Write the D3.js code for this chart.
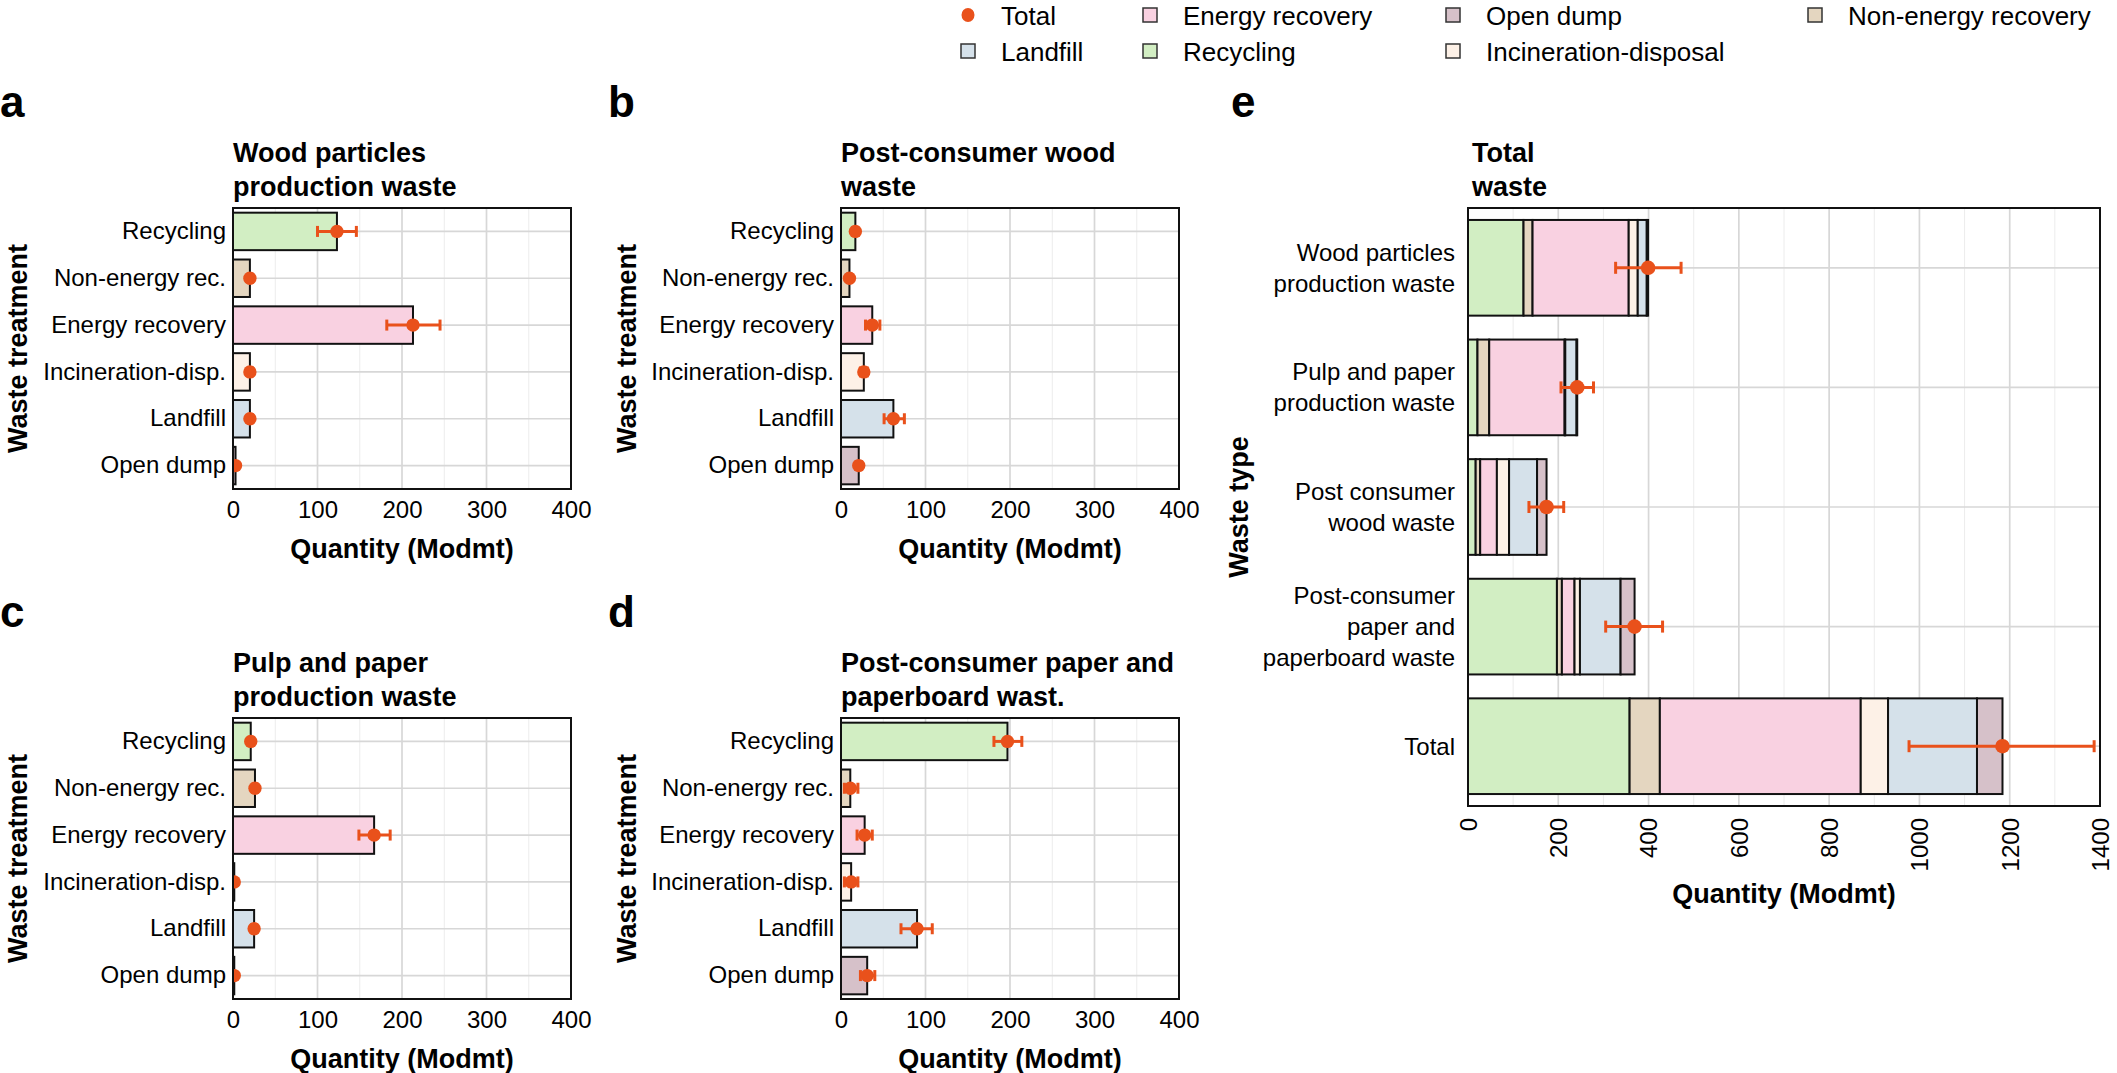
<!DOCTYPE html>
<html><head><meta charset="utf-8">
<script src="https://cdn.jsdelivr.net/npm/d3@7"></script>
<style>
body{margin:0;background:#fff;}
svg{display:block;font-family:"Liberation Sans",Arial,Helvetica,sans-serif;}
</style></head><body><svg id="chart" width="2117" height="1073"></svg>
<script>
// ---------------- DATA ----------------
const treatments = ["Recycling","Non-energy rec.","Energy recovery","Incineration-disp.","Landfill","Open dump"];
const treatmentKeys = ["Recycling","Non-energy recovery","Energy recovery","Incineration-disposal","Landfill","Open dump"];

const woodParticlesValues = [123, 20, 213, 20, 20, 3];
const woodParticlesLow    = [100, 18, 182, 18, 18, 2];
const woodParticlesHigh   = [146, 23, 245, 23, 23, 4];

const postWoodValues = [17, 10, 37, 27, 62, 21];
const postWoodLow    = [14, 8, 29, 23, 51, 18];
const postWoodHigh   = [20, 12, 46, 31, 75, 24];

const pulpPaperValues = [21, 26, 167, 1.5, 25, 1.5];
const pulpPaperLow    = [19, 23, 149, 1, 22, 1];
const pulpPaperHigh   = [24, 29, 186, 2, 28, 2];

const postPaperValues = [197, 11, 28, 12, 90, 31];
const postPaperLow    = [181, 4, 19, 4, 71, 23];
const postPaperHigh   = [214, 20, 37, 20, 108, 40];

const wasteTypes = ["Wood particles\nproduction waste","Pulp and paper\nproduction waste","Post consumer\nwood waste","Post-consumer\npaper and\npaperboard waste","Total"];
const totalLow  = [327, 206, 135, 305, 977];
const totalHigh = [472, 278, 212, 431, 1387];

const smallTicks = [0,100,200,300,400];
const smallMinor = [50,150,250,350];
const totalTicks = [0,200,400,600,800,1000,1200,1400];
const totalMinor = [100,300,500,700,900,1100,1300];

const legendRow1 = ["Total","Energy recovery","Open dump","Non-energy recovery"];
const legendRow2 = ["Landfill","Recycling","Incineration-disposal"];

// ---------------- STYLE ----------------
const fillColors = {
  "Recycling":"#d2eec3",
  "Non-energy recovery":"#e4d6c0",
  "Energy recovery":"#f9d1e1",
  "Incineration-disposal":"#fdf1e7",
  "Landfill":"#d5e1ea",
  "Open dump":"#d6c1c9"
};
const orange = "#e9511b";
const majorGrid = "#d7d7d7", minorGrid = "#ececec";
const FONT = '"Liberation Sans",Arial,Helvetica,sans-serif';

const svg = d3.select("#chart");
const defs = svg.append("defs");
let clipId = 0;

function styleAxis(sel, size){
  sel.attr("font-family", FONT).attr("font-size", size);
  sel.select(".domain").remove();
  sel.selectAll("text").attr("fill","#000");
}

function smallPanel(letter, letterX, x0, y0, titleLines, ytitleX, values, low, high){
  const w = 338, h = 281;
  const x = d3.scaleLinear().domain([0,400]).range([x0, x0+w]);
  const y = d3.scaleBand().domain(treatments).range([y0, y0+h]).padding(0);
  const bw = y.bandwidth()*0.8;
  const g = svg.append("g");
  const cid = "clip"+(clipId++);
  defs.append("clipPath").attr("id",cid).append("rect").attr("x",x0).attr("y",y0).attr("width",w).attr("height",h);

  g.append("text").attr("x",letterX).attr("y",y0-91).attr("font-weight","bold").attr("font-size",44).text(letter);
  titleLines.forEach((t,i)=>g.append("text").attr("x",x0).attr("y",y0-46+i*33.5)
    .attr("font-weight","bold").attr("font-size",27).text(t));

  const grid = g.append("g");
  grid.selectAll(".mn").data(smallMinor).join("line").attr("x1",d=>x(d)).attr("x2",d=>x(d))
    .attr("y1",y0).attr("y2",y0+h).attr("stroke",minorGrid).attr("stroke-width",1);
  grid.selectAll(".mj").data(smallTicks).join("line").attr("x1",d=>x(d)).attr("x2",d=>x(d))
    .attr("y1",y0).attr("y2",y0+h).attr("stroke",majorGrid).attr("stroke-width",1.7);
  grid.selectAll(".hz").data(treatments).join("line").attr("x1",x0).attr("x2",x0+w)
    .attr("y1",d=>y(d)+y.bandwidth()/2).attr("y2",d=>y(d)+y.bandwidth()/2)
    .attr("stroke",majorGrid).attr("stroke-width",1.7);

  const data = treatments.map((t,i)=>({t, key:treatmentKeys[i], v:values[i], lo:low[i], hi:high[i]}));
  const layer = g.append("g").attr("clip-path",`url(#${cid})`);
  layer.selectAll("rect").data(data).join("rect")
    .attr("x",x(0)).attr("y",d=>y(d.t)+(y.bandwidth()-bw)/2)
    .attr("width",d=>x(d.v)-x(0)).attr("height",bw)
    .attr("fill",d=>fillColors[d.key]).attr("stroke","#111").attr("stroke-width",2);
  const eb = layer.selectAll(".eb").data(data).join("g").attr("class","eb")
    .attr("stroke",orange).attr("stroke-width",3);
  eb.append("line").attr("x1",d=>x(d.lo)).attr("x2",d=>x(d.hi))
    .attr("y1",d=>y(d.t)+y.bandwidth()/2).attr("y2",d=>y(d.t)+y.bandwidth()/2);
  eb.append("line").attr("x1",d=>x(d.lo)).attr("x2",d=>x(d.lo))
    .attr("y1",d=>y(d.t)+y.bandwidth()/2-5.5).attr("y2",d=>y(d.t)+y.bandwidth()/2+5.5);
  eb.append("line").attr("x1",d=>x(d.hi)).attr("x2",d=>x(d.hi))
    .attr("y1",d=>y(d.t)+y.bandwidth()/2-5.5).attr("y2",d=>y(d.t)+y.bandwidth()/2+5.5);
  layer.selectAll("circle").data(data).join("circle")
    .attr("cx",d=>x(d.v)).attr("cy",d=>y(d.t)+y.bandwidth()/2).attr("r",6.7).attr("fill",orange);

  g.append("rect").attr("x",x0).attr("y",y0).attr("width",w).attr("height",h)
    .attr("fill","none").attr("stroke","#111").attr("stroke-width",2);

  g.append("g").attr("transform",`translate(0,${y0+h})`)
    .call(d3.axisBottom(x).tickValues(smallTicks).tickFormat(d3.format("d")).tickSize(0).tickPadding(12))
    .call(s=>styleAxis(s,24));
  g.append("g").attr("transform",`translate(${x0},0)`)
    .call(d3.axisLeft(y).tickSize(0).tickPadding(7))
    .call(s=>styleAxis(s,24));

  g.append("text").attr("x",x0+w/2).attr("y",y0+h+69).attr("text-anchor","middle")
    .attr("font-weight","bold").attr("font-size",27).text("Quantity (Modmt)");
  g.append("text").attr("transform",`translate(${ytitleX},${y0+h/2}) rotate(-90)`)
    .attr("text-anchor","middle").attr("font-weight","bold").attr("font-size",27).text("Waste treatment");
}

smallPanel("a", 0, 233, 208, ["Wood particles","production waste"], 27, woodParticlesValues, woodParticlesLow, woodParticlesHigh);
smallPanel("b", 608, 841, 208, ["Post-consumer wood","waste"], 636, postWoodValues, postWoodLow, postWoodHigh);
smallPanel("c", 0, 233, 718, ["Pulp and paper","production waste"], 27, pulpPaperValues, pulpPaperLow, pulpPaperHigh);
smallPanel("d", 608, 841, 718, ["Post-consumer paper and","paperboard wast."], 636, postPaperValues, postPaperLow, postPaperHigh);

// ---------------- PANEL E ----------------
(function(){
  const x0 = 1468, y0 = 208, w = 632, h = 598;
  const x = d3.scaleLinear().domain([0,1400]).range([x0, x0+w]);
  const y = d3.scaleBand().domain(wasteTypes).range([y0, y0+h]).padding(0);
  const bw = y.bandwidth()*0.8;
  const series = [woodParticlesValues, pulpPaperValues, postWoodValues, postPaperValues];
  const rows = wasteTypes.map((t,i)=>{
    const r = {type:t};
    treatmentKeys.forEach((k,j)=>{
      r[k] = i < series.length ? series[i][j] : d3.sum(series, s=>s[j]);
    });
    r.total = d3.sum(treatmentKeys, k=>r[k]);
    r.lo = totalLow[i]; r.hi = totalHigh[i];
    return r;
  });
  const stacked = d3.stack().keys(treatmentKeys)(rows);
  const g = svg.append("g");
  const cid = "clip"+(clipId++);
  defs.append("clipPath").attr("id",cid).append("rect").attr("x",x0).attr("y",y0).attr("width",w).attr("height",h);

  g.append("text").attr("x",1231).attr("y",y0-91).attr("font-weight","bold").attr("font-size",44).text("e");
  ["Total","waste"].forEach((t,i)=>g.append("text").attr("x",x0+4).attr("y",y0-46+i*33.5)
    .attr("font-weight","bold").attr("font-size",27).text(t));

  const grid = g.append("g");
  grid.selectAll(".mn").data(totalMinor).join("line").attr("x1",d=>x(d)).attr("x2",d=>x(d))
    .attr("y1",y0).attr("y2",y0+h).attr("stroke",minorGrid).attr("stroke-width",1);
  grid.selectAll(".mj").data(totalTicks).join("line").attr("x1",d=>x(d)).attr("x2",d=>x(d))
    .attr("y1",y0).attr("y2",y0+h).attr("stroke",majorGrid).attr("stroke-width",1.7);
  grid.selectAll(".hz").data(wasteTypes).join("line").attr("x1",x0).attr("x2",x0+w)
    .attr("y1",d=>y(d)+y.bandwidth()/2).attr("y2",d=>y(d)+y.bandwidth()/2)
    .attr("stroke",majorGrid).attr("stroke-width",1.7);

  const layer = g.append("g").attr("clip-path",`url(#${cid})`);
  stacked.forEach(s=>{
    layer.append("g").selectAll("rect").data(s).join("rect")
      .attr("x",d=>x(d[0])).attr("y",d=>y(d.data.type)+(y.bandwidth()-bw)/2)
      .attr("width",d=>x(d[1])-x(d[0])).attr("height",bw)
      .attr("fill",fillColors[s.key]).attr("stroke","#111").attr("stroke-width",2);
  });
  const eb = layer.selectAll(".eb").data(rows).join("g").attr("stroke",orange).attr("stroke-width",3);
  const cy = d=>y(d.type)+y.bandwidth()/2;
  eb.append("line").attr("x1",d=>x(d.lo)).attr("x2",d=>x(d.hi)).attr("y1",cy).attr("y2",cy);
  eb.append("line").attr("x1",d=>x(d.lo)).attr("x2",d=>x(d.lo)).attr("y1",d=>cy(d)-6).attr("y2",d=>cy(d)+6);
  eb.append("line").attr("x1",d=>x(d.hi)).attr("x2",d=>x(d.hi)).attr("y1",d=>cy(d)-6).attr("y2",d=>cy(d)+6);
  layer.selectAll("circle").data(rows).join("circle")
    .attr("cx",d=>x(d.total)).attr("cy",cy).attr("r",7.3).attr("fill",orange);

  g.append("rect").attr("x",x0).attr("y",y0).attr("width",w).attr("height",h)
    .attr("fill","none").attr("stroke","#111").attr("stroke-width",2);

  const xa = g.append("g").attr("transform",`translate(0,${y0+h})`)
    .call(d3.axisBottom(x).tickValues(totalTicks).tickFormat(d3.format("d")).tickSize(0))
    .call(s=>styleAxis(s,24));
  xa.selectAll("text").attr("transform","rotate(-90)").attr("x",-12).attr("y",0)
    .attr("dy","0.35em").attr("text-anchor","end");

  const ya = g.append("g").attr("transform",`translate(${x0},0)`)
    .call(d3.axisLeft(y).tickSize(0).tickPadding(13))
    .call(s=>styleAxis(s,24));
  ya.selectAll("text").each(function(d){
    const lines = d.split("\n");
    const t = d3.select(this).text(null).attr("dy",null);
    lines.forEach((ln,i)=>{
      t.append("tspan").attr("x",-13).attr("dy", i===0 ? (0.35*24 - (lines.length-1)*31/2) : 31).text(ln);
    });
  });

  g.append("text").attr("x",x0+w/2).attr("y",y0+h+97).attr("text-anchor","middle")
    .attr("font-weight","bold").attr("font-size",27).text("Quantity (Modmt)");
  g.append("text").attr("transform",`translate(1248,${y0+h/2}) rotate(-90)`)
    .attr("text-anchor","middle").attr("font-weight","bold").attr("font-size",27).text("Waste type");
})();

// ---------------- LEGEND ----------------
(function(){
  const colX = [968, 1150, 1453, 1815];
  const rowY = [15, 51];
  const lg = svg.append("g").attr("font-size",26);
  function item(label, col, row){
    const cx = colX[col], cy = rowY[row];
    if(label === "Total"){
      lg.append("ellipse").attr("cx",cx).attr("cy",cy).attr("rx",6.5).attr("ry",7).attr("fill",orange);
    } else {
      lg.append("rect").attr("x",cx-7).attr("y",cy-7).attr("width",14).attr("height",14)
        .attr("fill",fillColors[label]).attr("stroke","#333").attr("stroke-width",1.5);
    }
    lg.append("text").attr("x",cx+33).attr("y",cy+9.5).text(label);
  }
  legendRow1.forEach((l,i)=>item(l,i,0));
  legendRow2.forEach((l,i)=>item(l,i,1));
})();
</script></body></html>
